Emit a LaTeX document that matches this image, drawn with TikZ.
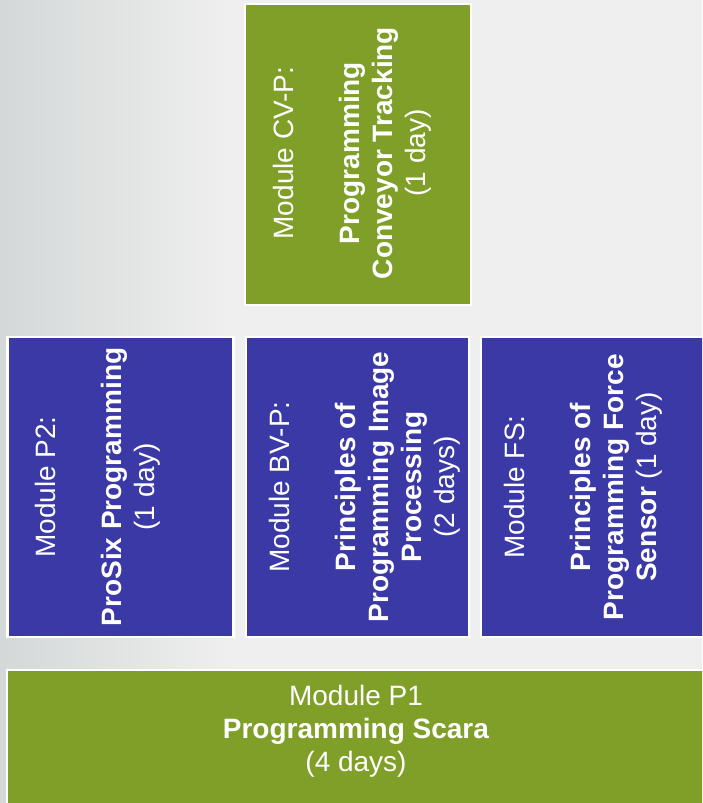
\documentclass[tikz,border=0pt]{standalone}
\usepackage{fontspec}
\setmainfont{Liberation Sans}
\definecolor{modgreen}{HTML}{809F29}
\definecolor{modblue}{HTML}{3A39A6}
\definecolor{bgright}{HTML}{EFEFEF}
\definecolor{bgleft}{HTML}{D4D8D8}
\tikzset{
  modbox/.style={draw=white, line width=2.5pt, inner sep=0pt, outer sep=0pt},
  greenbox/.style={modbox, fill=modgreen},
  bluebox/.style={modbox, fill=modblue},
  modtext/.style={text=white, align=center, inner sep=0pt,
    font=\fontsize{28}{33}\selectfont},
  vtext/.style={modtext, rotate=90}
}
\begin{document}
\begin{tikzpicture}[x=1pt, y=-1pt]
\useasboundingbox (0,0) rectangle (702,803);
\clip (0,0) rectangle (702,803);
% background
\fill[bgright] (0,0) rectangle (702,803);
\shade[left color=bgleft, right color=bgright, shading angle=90] (0,0) rectangle (230,803);
% boxes
\node[greenbox, minimum width=226pt, minimum height=301pt] (cvp) at (358,154.5) {};
\node[bluebox, minimum width=226pt, minimum height=300pt] (p2) at (120.5,487) {};
\node[bluebox, minimum width=223pt, minimum height=300pt] (bvp) at (357.5,487) {};
\node[bluebox, minimum width=226pt, minimum height=300pt] (fs) at (594,487) {};
\node[greenbox, minimum width=700pt, minimum height=150pt] (p1) at (357,745) {};
% texts
\node[vtext] (cvpt) at (352,153) {Module CV-P:\\ ~\\ \textbf{Programming}\\ \textbf{Conveyor Tracking}\\ (1 day)};
\node[vtext] (p2t) at (98,487) {Module P2:\\ ~\\ \textbf{ProSix Programming}\\ (1 day)};
\node[vtext] (bvpt) at (365,487) {Module BV-P:\\ ~\\ \textbf{Principles of}\\ \textbf{Programming Image}\\ \textbf{Processing}\\ (2 days)};
\node[vtext] (fst) at (583,487) {Module FS:\\ ~\\ \textbf{Principles of}\\ \textbf{Programming Force}\\ \textbf{Sensor} (1 day)};
\node[modtext] (p1t) at (356,731) {Module P1\\ \textbf{Programming Scara}\\ (4 days)};
\end{tikzpicture}
\end{document}
